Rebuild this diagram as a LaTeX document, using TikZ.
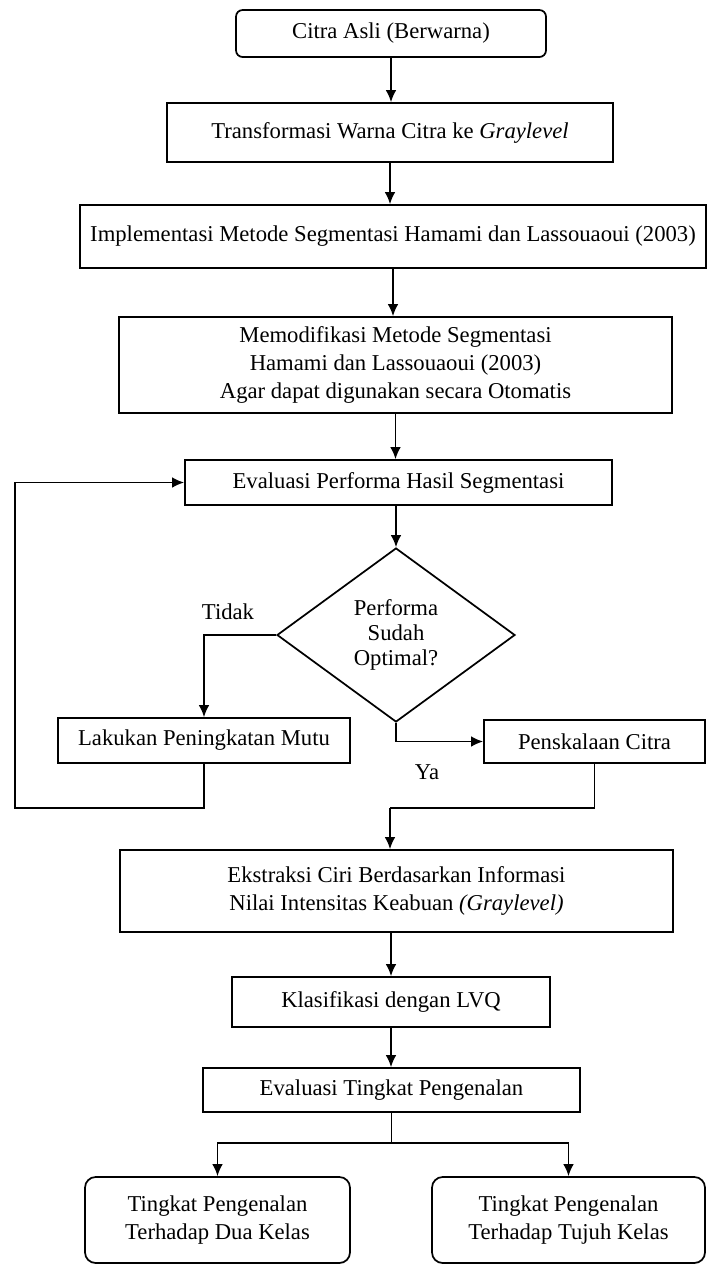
\documentclass[tikz,border=0pt]{standalone}
\usepackage{fontspec}
\setmainfont{Liberation Serif}
\usetikzlibrary{arrows.meta,shapes.geometric}

\begin{document}
\begin{tikzpicture}[x=0.75pt,y=0.75pt,yscale=-1,xscale=1,
  every node/.style={font=\fontsize{17}{21}\selectfont},
  proc/.style={draw, line width=1.3pt, align=center, inner sep=0pt},
  term/.style={proc, rounded corners=5pt},
  cond/.style={proc, shape=diamond, font=\fontsize{17}{19}\selectfont},
  arr/.style={line width=1.3pt, -{Latex[length=9pt,width=8pt]}},
  wire/.style={line width=1.3pt}]
\useasboundingbox (0,0) rectangle (707,1265);

%Shape: Rounded Rect
\draw (391,33.5) node [term, minimum width=232.5pt, minimum height=35.25pt] (asli) {Citra Asli (Berwarna)};
%Shape: Rectangle
\draw (390,132.5) node [proc, minimum width=334.5pt, minimum height=44.25pt] (gray) {Transformasi Warna Citra ke \textit{Graylevel}};
%Shape: Rectangle
\draw (393,236.5) node [proc, minimum width=469.5pt, minimum height=47.25pt] (impl) {Implementasi Metode Segmentasi Hamami dan Lassouaoui (2003)};
%Shape: Rectangle
\draw (395.5,365) node [proc, minimum width=414.75pt, minimum height=72pt] (modif) {Memodifikasi Metode Segmentasi\\Hamami dan Lassouaoui (2003)\\Agar dapat digunakan secara Otomatis};
%Shape: Rectangle
\draw (398.5,482.5) node [proc, minimum width=320.25pt, minimum height=33.75pt] (evalseg) {Evaluasi Performa Hasil Segmentasi};
%Shape: Diamond
\draw (396,635) node [cond, minimum width=178.5pt, minimum height=130.5pt] (optimal) {Performa\\Sudah\\Optimal?};
%Shape: Rectangle
\draw (204,740.5) node [proc, minimum width=219pt, minimum height=33.75pt] (mutu) {Lakukan Peningkatan Mutu};
%Shape: Rectangle
\draw (594.5,741.5) node [proc, minimum width=165.75pt, minimum height=32.25pt] (skala) {Penskalaan Citra};
%Shape: Rectangle
\draw (396.5,891) node [proc, minimum width=414.75pt, minimum height=61.5pt] (ciri) {Ekstraksi Ciri Berdasarkan Informasi\\Nilai Intensitas Keabuan \textit{(Graylevel)}};
%Shape: Rectangle
\draw (391,1002) node [proc, minimum width=238.5pt, minimum height=37.5pt] (lvq) {Klasifikasi dengan LVQ};
%Shape: Rectangle
\draw (391.5,1090) node [proc, minimum width=282.75pt, minimum height=33pt] (evalkenal) {Evaluasi Tingkat Pengenalan};
%Shape: Rounded Rect
\draw (217.5,1220) node [term, rounded corners=8pt, minimum width=198.75pt, minimum height=64.5pt] (dua) {Tingkat Pengenalan\\Terhadap Dua Kelas};
%Shape: Rounded Rect
\draw (568.5,1220) node [term, rounded corners=8pt, minimum width=204.75pt, minimum height=64.5pt] (tujuh) {Tingkat Pengenalan\\Terhadap Tujuh Kelas};

% Text Node
\draw (228,612) node (tidak) {Tidak};
% Text Node
\draw (427,772) node (ya) {Ya};

\coordinate (loop) at (15,808);
\coordinate (join) at (390,808);
\coordinate (split) at (391.5,1143);

%Straight Lines
\draw [arr] (asli.south) -- (asli.south |- gray.north);
\draw [arr] (gray.south) -- (gray.south |- impl.north);
\draw [arr] (impl.south) -- (impl.south |- modif.north);
\draw [arr] (modif.south) -- (modif.south |- evalseg.north);
\draw [arr] (optimal.north |- evalseg.south) -- (optimal.north);
\draw [arr] (optimal.west) -| (mutu.north);
\draw [arr] (optimal.south) |- (skala.west);
\draw [arr] (mutu.south) |- (loop) |- (evalseg.west);
\draw [wire] (skala.south) |- (join);
\draw [arr] (join) -- (join |- ciri.north);
\draw [arr] (lvq.north |- ciri.south) -- (lvq.north);
\draw [arr] (lvq.south) -- (lvq.south |- evalkenal.north);
\draw [wire] (evalkenal.south) -- (split);
\draw [arr] (split) -| (dua.north);
\draw [arr] (split) -| (tujuh.north);
\end{tikzpicture}
\end{document}
